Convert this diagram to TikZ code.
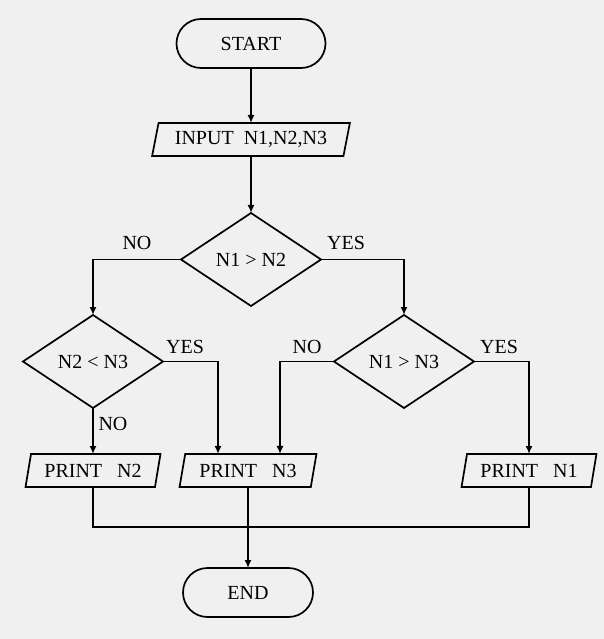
\documentclass[tikz,border=0pt]{standalone}
\usepackage{fontspec}
\setmainfont{Liberation Serif}
\usetikzlibrary{shapes.geometric, shapes.misc, arrows.meta}
\definecolor{bggray}{HTML}{F0F0F0}

\begin{document}
\begin{tikzpicture}[x=1pt, y=-1pt, line width=1.7pt, font=\fontsize{20}{24}\selectfont,
	term/.style = {draw, rounded rectangle, minimum height=49pt, inner sep=0pt, outer sep=0pt},
	io/.style = {draw, trapezium, trapezium left angle=72, trapezium right angle=108, trapezium stretches=true, minimum height=33pt, inner sep=0pt, outer sep=0pt},
	dec/.style = {draw, diamond, minimum width=140pt, minimum height=93pt, inner sep=0pt, outer sep=0pt},
	arr/.style = {-{Latex[length=8pt,width=7pt]}}]
		\fill [bggray] (0, 0) rectangle (604, 639);
		\node [term, minimum width=149pt] (start) at (251, 43.5) {START};
		\node [io, minimum width=198pt] (input) at (251, 139.5) {INPUT~~N1,N2,N3};
		\node [dec] (d1) at (251, 259.5) {N1 > N2};
		\node [dec] (d2) at (93, 361.5) {N2 < N3};
		\node [dec] (d3) at (404, 361.5) {N1 > N3};
		\node [io, minimum width=135pt] (p2) at (93, 470.5) {PRINT~~~N2};
		\node [io, minimum width=137pt] (p3) at (248, 470.5) {PRINT~~~N3};
		\node [io, minimum width=135pt] (p1) at (529, 470.5) {PRINT~~~N1};
		\node [term, minimum width=130pt] (end) at (248, 592.5) {END};
		\coordinate (join) at (248, 527);
		\node (no1) at (137, 243) {NO};
		\node (yes1) at (346, 243) {YES};
		\node (yes2) at (185, 347) {YES};
		\node (no2) at (113, 424) {NO};
		\node (no3) at (307, 347) {NO};
		\node (yes3) at (499, 347) {YES};
	% flow
		\draw [arr] (start) -- (input);
		\draw [arr] (input) -- (d1);
		\draw [arr] (d1.west) -| (d2.north);
		\draw [arr] (d1.east) -| (d3.north);
		\draw [arr] (d2) -- (p2);
		\draw [arr] (d2.east) -| ([xshift=-30pt]p3.center |- p3.north);
		\draw [arr] (d3.west) -| ([xshift=32pt]p3.center |- p3.north);
		\draw [arr] (d3.east) -| (p1.center |- p1.north);
		\draw (p2.center |- p2.south) |- (join) -| (p1.center |- p1.south);
		\draw [arr] (p3.center |- p3.south) -- (join) -- (end);
\end{tikzpicture}
\end{document}
